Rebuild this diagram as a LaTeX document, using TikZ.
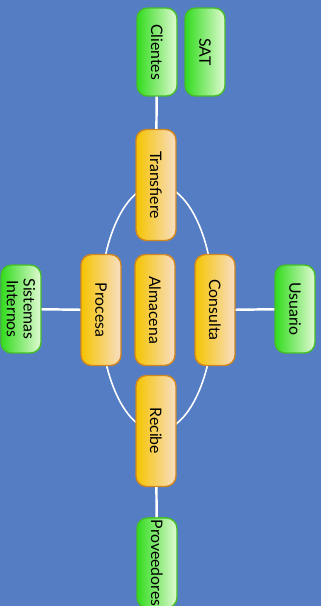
\documentclass[tikz,border=0pt]{standalone}
\usepackage{fontspec}
\setmainfont{Lato}
\usepackage{tikz}

\definecolor{fondo}{RGB}{84,125,196}
\definecolor{verdeA}{RGB}{50,220,30}
\definecolor{verdeB}{RGB}{225,250,210}
\definecolor{verdeC}{RGB}{70,190,40}
\definecolor{naranjaA}{RGB}{245,196,0}
\definecolor{naranjaB}{RGB}{248,222,196}
\definecolor{naranjaC}{RGB}{210,135,30}

\begin{document}
\begin{tikzpicture}[x=0.02cm,y=-0.02cm,
	caja/.style={rotate=-90, rounded corners=6pt, minimum height=0.8cm, inner sep=1pt,
		font=\fontsize{9}{9.5}\selectfont, align=center, line width=0.8pt},
	externo/.style={caja, draw=verdeC, left color=verdeA, right color=verdeB, minimum width=1.76cm},
	proceso/.style={caja, draw=naranjaC, left color=naranjaA, right color=naranjaB, minimum width=2.22cm},
	enlace/.style={white, line width=1.4pt}]
	\fill[fondo] (0,0) rectangle (321,606);
	\useasboundingbox (0,0) rectangle (321,606);

	\draw[white, line width=0.9pt] (157,308) ellipse (57 and 123);

	\node[externo] (clientes) at (157,52) {Clientes};
	\node[externo] (sat) at (205,52) {SAT};
	\node[proceso] (transfiere) at (156,185) {Transfiere};
	\node[proceso] (procesa) at (101,310) {Procesa};
	\node[proceso] (almacena) at (155,310) {Almacena};
	\node[proceso] (consulta) at (215,310) {Consulta};
	\node[proceso] (recibe) at (156,431) {Recibe};
	\node[externo] (sistemas) at (21,309) {Sistemas\\Internos};
	\node[externo] (usuario) at (295,309) {Usuario};
	\node[externo] (proveedores) at (157,563) {Proveedores};

	\draw[enlace] (clientes) -- (transfiere);
	\draw[enlace] (sistemas) -- (procesa);
	\draw[enlace] (consulta) -- (usuario);
	\draw[enlace] (recibe) -- (proveedores);

\end{tikzpicture}
\end{document}
